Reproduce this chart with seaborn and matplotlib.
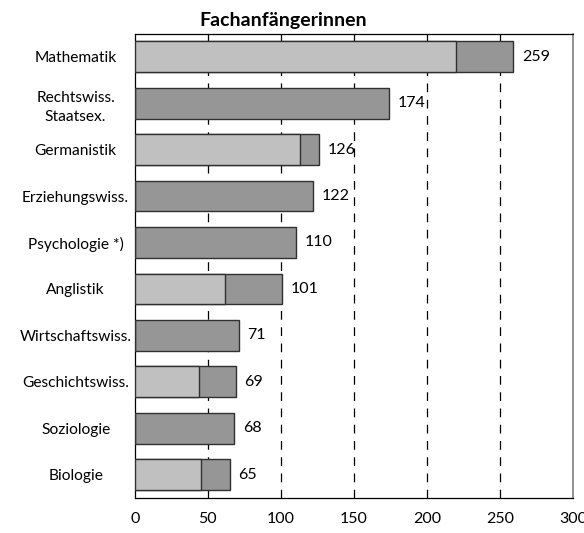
import numpy as np
import pandas as pd
import matplotlib
matplotlib.use("Agg")
import matplotlib.pyplot as plt
import seaborn as sns

# data
faecher = ["Mathematik", "Rechtswiss.\nStaatsex.", "Germanistik", "Erziehungswiss.",
           "Psychologie *)", "Anglistik", "Wirtschaftswiss.", "Geschichtswiss.",
           "Soziologie", "Biologie"]
gesamt = [259, 174, 126, 122, 110, 101, 71, 69, 68, 65]
lehramt = [220, 0, 113, 0, 0, 62, 0, 44, 0, 45]

sns.set_style("white")
plt.rcParams["font.family"] = ["Lato", "DejaVu Sans"]
plt.rcParams["text.color"] = "black"
plt.rcParams["xtick.color"] = "black"
plt.rcParams["ytick.color"] = "black"

df = pd.DataFrame({"fach": faecher, "gesamt": gesamt, "lehramt": lehramt})

fig = plt.figure(figsize=(5.84, 5.33), dpi=100)
ax = fig.add_axes([0.231, 0.066, 0.75, 0.871])

sns.barplot(data=df, x="gesamt", y="fach", orient="h", color="#969696",
            edgecolor="#303030", linewidth=1, width=0.66, saturation=1, ax=ax, zorder=3)
sns.barplot(data=df, x="lehramt", y="fach", orient="h", color="#c0c0c0",
            edgecolor="#303030", linewidth=1, width=0.66, saturation=1, ax=ax, zorder=4)

for i, v in enumerate(gesamt):
    ax.text(v + 6, i, str(v), va="center", ha="left", fontsize=11.5, zorder=5)

ax.set_xlim(0, 300)
ax.set_ylim(9.5, -0.5)
ax.set_xticks(range(0, 301, 50))
ax.set_xlabel("")
ax.set_ylabel("")
fig.text(0.485, 0.962, "Fachanfängerinnen", fontsize=14, fontweight="bold",
         ha="center", va="center")

for x in range(50, 300, 50):
    ax.axvline(x, color="black", lw=0.9, ls=(0, (7, 6)), zorder=1)

ax.tick_params(axis="x", direction="inout", length=8, width=0.9, labelsize=11.5, pad=6)
ax.tick_params(axis="y", which="major", length=0, labelsize=11.2, pad=8)
ax.set_yticks(np.arange(-0.5, 10, 1), minor=True)
ax.tick_params(axis="y", which="minor", direction="out", length=5, width=0.9)
for lab in ax.get_yticklabels():
    lab.set_horizontalalignment("center")
    lab.set_x(-0.11)
    lab.set_linespacing(1.5)

for side in ["left", "bottom", "top"]:
    ax.spines[side].set_color("black")
    ax.spines[side].set_linewidth(0.9)
ax.spines["right"].set_color("#808080")
ax.spines["right"].set_linewidth(1.2)

fig.savefig("out.png", dpi=100)
